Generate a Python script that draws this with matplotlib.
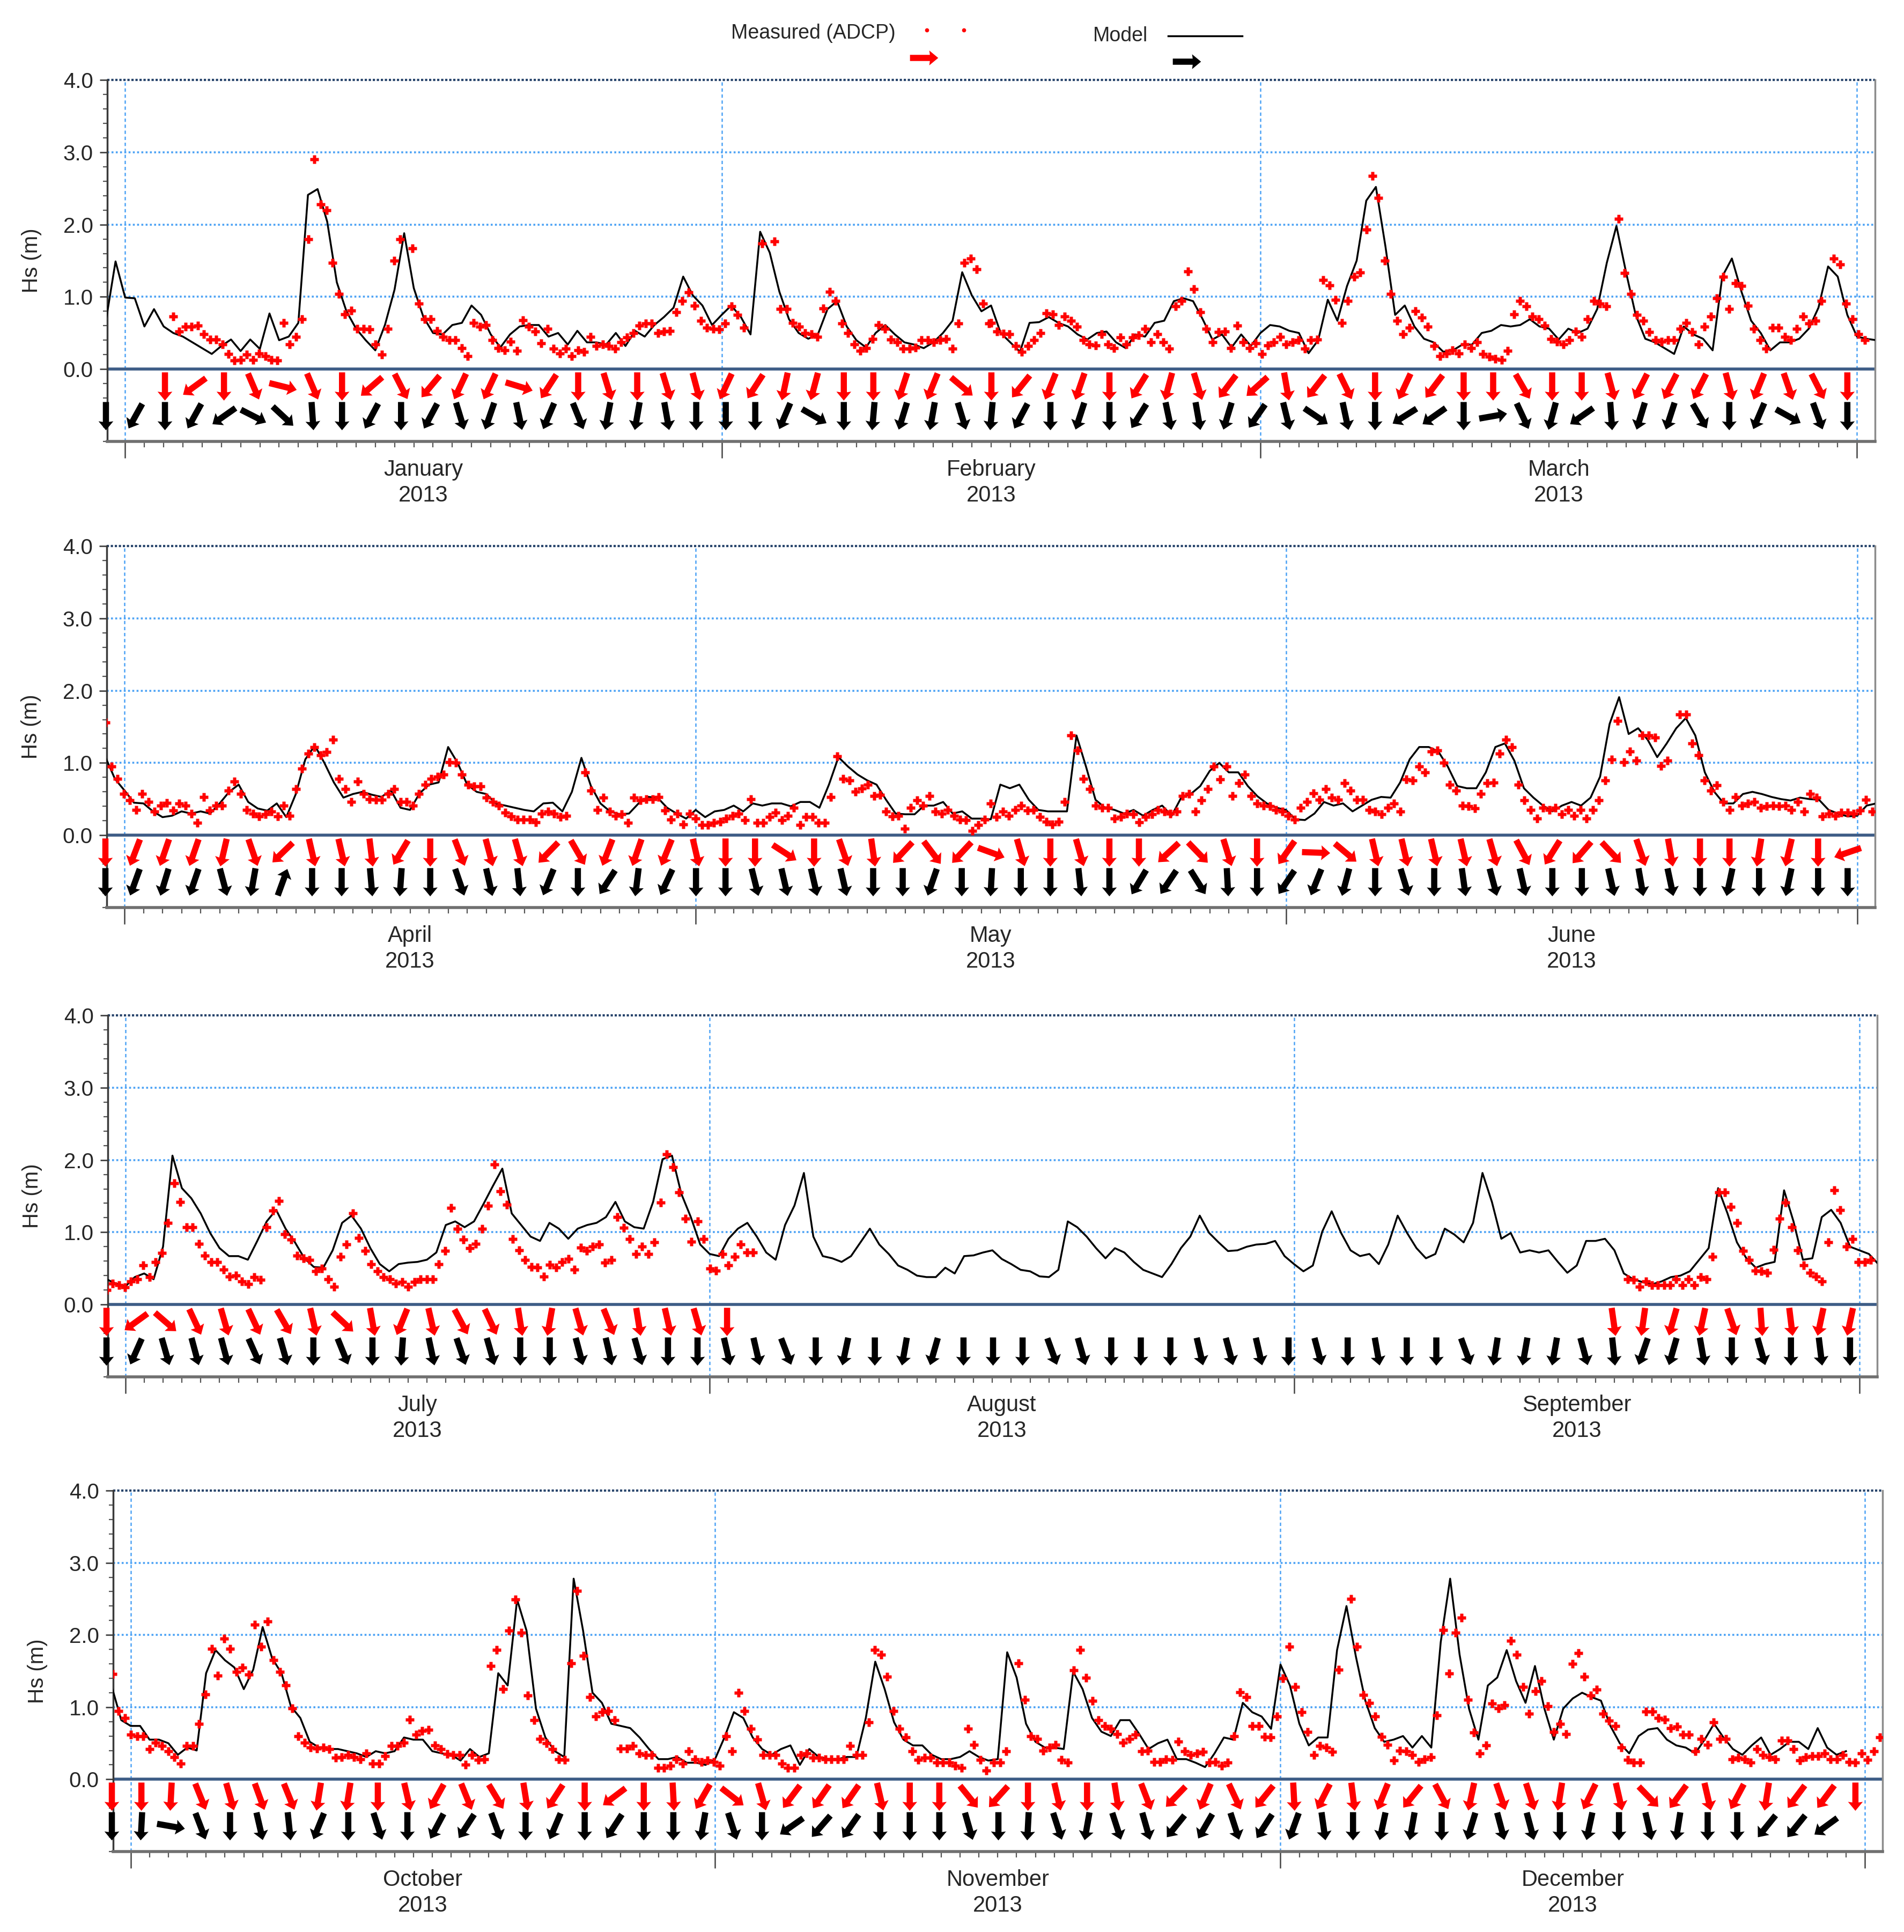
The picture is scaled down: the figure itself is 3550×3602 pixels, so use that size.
import numpy as np
import matplotlib
matplotlib.use("Agg")
import matplotlib.pyplot as plt
from matplotlib.ticker import FixedLocator, MultipleLocator

plt.rcParams['font.family'] = ['Liberation Sans', 'DejaVu Sans']

# ---------------------------------------------------------------- data
# model Hs, every 12 h, first value at day -1 of each quarter
model_q1 = [0.67, 1.49, 0.99, 0.98, 0.59, 0.83, 0.59, 0.50, 0.45, 0.37,
            0.29, 0.21, 0.32, 0.41, 0.25, 0.41, 0.28, 0.77, 0.40, 0.45,
            0.64, 2.41, 2.49, 2.04, 1.20, 0.80, 0.56, 0.40, 0.26, 0.61,
            1.10, 1.88, 1.12, 0.72, 0.50, 0.48, 0.61, 0.64, 0.88, 0.75,
            0.48, 0.30, 0.48, 0.59, 0.61, 0.61, 0.45, 0.50, 0.34, 0.53,
            0.37, 0.37, 0.34, 0.50, 0.32, 0.53, 0.45, 0.61, 0.72, 0.85,
            1.28, 1.02, 0.88, 0.61, 0.75, 0.88, 0.72, 0.48, 1.90, 1.61,
            1.07, 0.69, 0.50, 0.42, 0.48, 0.83, 0.94, 0.59, 0.40, 0.30,
            0.50, 0.61, 0.48, 0.37, 0.34, 0.29, 0.37, 0.50, 0.67, 1.34,
            1.02, 0.80, 0.88, 0.50, 0.37, 0.24, 0.64, 0.65, 0.72, 0.64,
            0.59, 0.48, 0.41, 0.50, 0.52, 0.37, 0.29, 0.48, 0.45, 0.64,
            0.67, 0.94, 0.98, 0.94, 0.69, 0.41, 0.48, 0.30, 0.48, 0.32,
            0.50, 0.61, 0.59, 0.53, 0.50, 0.22, 0.40, 0.96, 0.67, 1.15,
            1.50, 2.33, 2.52, 1.69, 0.75, 0.88, 0.59, 0.42, 0.37, 0.24,
            0.26, 0.34, 0.34, 0.50, 0.53, 0.61, 0.59, 0.61, 0.69, 0.59,
            0.56, 0.41, 0.56, 0.50, 0.56, 0.83, 1.47, 1.98, 1.34, 0.75,
            0.42, 0.37, 0.29, 0.21, 0.59, 0.48, 0.42, 0.26, 1.28, 1.53,
            1.07, 0.67, 0.50, 0.26, 0.37, 0.37, 0.42, 0.56, 0.85, 1.42,
            1.28, 0.75, 0.45, 0.42, 0.40]
model_q2 = [1.08, 0.78, 0.62, 0.45, 0.44, 0.33, 0.25, 0.27, 0.33, 0.30,
            0.33, 0.30, 0.44, 0.60, 0.70, 0.46, 0.37, 0.34, 0.44, 0.25,
            0.57, 1.05, 1.24, 1.00, 0.73, 0.52, 0.57, 0.60, 0.56, 0.53,
            0.62, 0.38, 0.35, 0.58, 0.70, 0.73, 1.22, 1.00, 0.70, 0.60,
            0.57, 0.44, 0.41, 0.38, 0.35, 0.33, 0.44, 0.45, 0.33, 0.60,
            1.07, 0.68, 0.44, 0.33, 0.29, 0.30, 0.44, 0.53, 0.52, 0.38,
            0.30, 0.23, 0.35, 0.25, 0.33, 0.35, 0.41, 0.33, 0.44, 0.41,
            0.44, 0.44, 0.40, 0.46, 0.46, 0.38, 0.70, 1.08, 0.95, 0.84,
            0.76, 0.70, 0.49, 0.30, 0.29, 0.29, 0.41, 0.41, 0.46, 0.30,
            0.33, 0.23, 0.23, 0.22, 0.70, 0.65, 0.70, 0.49, 0.35, 0.33,
            0.33, 0.33, 1.38, 0.95, 0.49, 0.38, 0.35, 0.30, 0.35, 0.27,
            0.35, 0.41, 0.27, 0.52, 0.57, 0.68, 0.89, 1.00, 0.87, 0.87,
            0.68, 0.54, 0.44, 0.38, 0.35, 0.22, 0.21, 0.30, 0.46, 0.41,
            0.44, 0.33, 0.41, 0.49, 0.53, 0.52, 0.73, 1.05, 1.22, 1.22,
            1.16, 0.95, 0.68, 0.65, 0.65, 0.87, 1.22, 1.27, 1.03, 0.65,
            0.52, 0.41, 0.33, 0.41, 0.46, 0.41, 0.52, 0.81, 1.54, 1.91,
            1.40, 1.48, 1.32, 1.08, 1.27, 1.48, 1.62, 1.38, 0.87, 0.60,
            0.44, 0.44, 0.57, 0.60, 0.57, 0.53, 0.50, 0.48, 0.52, 0.50,
            0.49, 0.35, 0.30, 0.26, 0.27, 0.41, 0.44]
model_q3 = [0.35, 0.29, 0.25, 0.38, 0.43, 0.35, 0.80, 2.06, 1.61, 1.47,
            1.26, 0.99, 0.78, 0.67, 0.67, 0.62, 0.88, 1.15, 1.31, 1.05,
            0.86, 0.64, 0.52, 0.51, 0.75, 1.13, 1.23, 1.05, 0.78, 0.56,
            0.46, 0.56, 0.58, 0.59, 0.62, 0.72, 1.10, 1.15, 1.07, 1.15,
            1.39, 1.64, 1.88, 1.26, 1.10, 0.94, 0.88, 1.13, 1.05, 0.91,
            1.05, 1.10, 1.13, 1.21, 1.42, 1.15, 1.07, 1.05, 1.42, 2.01,
            2.06, 1.53, 1.21, 0.83, 0.70, 0.67, 0.91, 1.05, 1.13, 0.94,
            0.72, 0.62, 1.10, 1.37, 1.82, 0.94, 0.67, 0.64, 0.59, 0.67,
            0.86, 1.05, 0.83, 0.70, 0.54, 0.48, 0.40, 0.38, 0.38, 0.51,
            0.43, 0.67, 0.68, 0.72, 0.75, 0.63, 0.56, 0.48, 0.46, 0.39,
            0.38, 0.48, 1.15, 1.07, 0.94, 0.78, 0.64, 0.78, 0.72, 0.59,
            0.48, 0.43, 0.38, 0.56, 0.78, 0.94, 1.23, 0.99, 0.86, 0.74,
            0.75, 0.80, 0.83, 0.84, 0.88, 0.67, 0.56, 0.46, 0.54, 1.01,
            1.29, 0.99, 0.75, 0.67, 0.70, 0.56, 0.83, 1.23, 0.99, 0.78,
            0.64, 0.70, 1.05, 0.97, 0.86, 1.13, 1.82, 1.42, 0.91, 0.99,
            0.72, 0.75, 0.72, 0.75, 0.59, 0.44, 0.54, 0.88, 0.88, 0.91,
            0.75, 0.43, 0.35, 0.31, 0.28, 0.32, 0.38, 0.40, 0.46, 0.62,
            0.78, 1.61, 1.26, 0.86, 0.64, 0.51, 0.56, 0.59, 1.58, 1.15,
            0.62, 0.64, 1.21, 1.31, 1.13, 0.80, 0.75, 0.70, 0.56]
model_q4 = [1.28, 0.82, 0.74, 0.74, 0.55, 0.55, 0.50, 0.34, 0.44, 0.40,
            1.47, 1.79, 1.65, 1.55, 1.25, 1.52, 2.11, 1.68, 1.47, 1.01,
            0.85, 0.52, 0.44, 0.42, 0.42, 0.39, 0.36, 0.31, 0.39, 0.36,
            0.39, 0.58, 0.55, 0.55, 0.39, 0.36, 0.34, 0.26, 0.42, 0.31,
            0.36, 1.47, 1.30, 2.49, 2.06, 0.98, 0.58, 0.39, 0.31, 2.78,
            2.06, 1.20, 1.06, 0.77, 0.74, 0.71, 0.58, 0.42, 0.28, 0.28,
            0.31, 0.23, 0.23, 0.20, 0.28, 0.58, 0.93, 0.85, 0.58, 0.42,
            0.34, 0.42, 0.47, 0.20, 0.42, 0.31, 0.28, 0.28, 0.31, 0.31,
            0.85, 1.63, 1.25, 0.79, 0.55, 0.47, 0.47, 0.34, 0.28, 0.28,
            0.31, 0.39, 0.31, 0.26, 0.28, 1.76, 1.41, 0.77, 0.52, 0.44,
            0.44, 0.42, 1.49, 1.25, 0.85, 0.66, 0.60, 0.82, 0.82, 0.63,
            0.42, 0.50, 0.55, 0.28, 0.28, 0.23, 0.17, 0.36, 0.58, 0.55,
            1.06, 0.93, 0.87, 0.70, 1.59, 1.30, 0.77, 0.47, 0.58, 0.58,
            1.79, 2.40, 1.70, 1.09, 0.71, 0.52, 0.55, 0.60, 0.44, 0.60,
            0.44, 1.90, 2.78, 1.73, 0.98, 0.55, 1.30, 1.41, 1.79, 1.36,
            1.06, 1.57, 0.98, 0.55, 0.98, 1.12, 1.20, 1.14, 1.09, 0.74,
            0.50, 0.36, 0.60, 0.69, 0.71, 0.55, 0.47, 0.44, 0.36, 0.55,
            0.77, 0.58, 0.42, 0.34, 0.47, 0.58, 0.34, 0.42, 0.52, 0.52,
            0.42, 0.71, 0.44, 0.34, 0.39]

# measured Hs (ADCP), roughly every 8 h; None = no record
meas_q1a = [0.73, 0.52, 0.59, 0.59, 0.6, 0.48, 0.41, 0.41, 0.34, 0.21, 0.12, 0.13, 0.2, 0.13,
            0.22, 0.18, 0.13, 0.12, 0.64, 0.34, 0.45, 0.69, 1.8, 2.9, 2.28, 2.2, 1.47, 1.04,
            0.76, 0.81, 0.56, 0.56, 0.55, 0.34, 0.2, 0.56, 1.5, 1.8, None, 1.67, 0.91, 0.69,
            0.69, 0.53, 0.45, 0.4, 0.4, 0.29, 0.18, 0.64, 0.59, 0.61, 0.4, 0.29, 0.26, 0.38,
            0.25, 0.68, 0.59, 0.52, 0.36, 0.56, 0.28, 0.22, 0.28, 0.18, 0.26, 0.24, 0.45, 0.32,
            0.34, 0.32, 0.28, 0.37, 0.44, 0.5, 0.6, 0.63, 0.63, 0.5, 0.52, 0.53, 0.79, 0.94,
            1.06, 0.88, 0.67, 0.57, 0.56, 0.55, 0.63, 0.87, 0.75, 0.57, None, None, 1.74, None,
            1.77, 0.83, 0.83, 0.64, 0.59, 0.5, 0.48, 0.45, 0.84, 1.07, 0.94, 0.63, 0.5, 0.34,
            0.25, 0.29, 0.42, 0.61, 0.56, 0.41, 0.37, 0.28, 0.28, 0.3, 0.4, 0.4, 0.37, 0.4,
            0.42, 0.28, 0.63, 1.47, 1.53, 1.38, 0.91, 0.63]
meas_q1b = [0.64, 0.52, 0.49, 0.48, 0.32, 0.24, 0.32, 0.4, 0.5, 0.77, 0.76, 0.61, 0.73, 0.67,
            0.59, 0.4, 0.34, 0.33, 0.48, 0.34, 0.29, 0.44, 0.34, 0.44, 0.47, 0.56, 0.37, 0.48,
            0.37, 0.28, 0.87, 0.94, 1.35, 1.11, 0.79, 0.56, 0.37, 0.51, 0.52, 0.29, 0.6, 0.37,
            0.29, 0.36, 0.21, 0.33, 0.37, 0.45, 0.34, 0.37, 0.4, 0.28, 0.4, 0.41, 1.23, 1.16,
            0.96, 0.64, 0.94, 1.28, 1.34, 1.93, 2.67, 2.37, 1.5, 1.04, 0.67, 0.48, 0.57, 0.8,
            0.71, 0.59, 0.32, 0.18, 0.22, 0.26, 0.22, 0.34, 0.29, 0.37, 0.21, 0.17, 0.14, 0.13,
            0.25, 0.76, 0.94, 0.87, 0.73, 0.69, 0.6, 0.42, 0.38, 0.34, 0.4, 0.52, 0.45, 0.69,
            0.94, 0.91, 0.87, None, 2.08, 1.33, 1.04, 0.75, 0.67, 0.51, 0.4, 0.38, 0.4, 0.4,
            0.56, 0.64, 0.51, 0.34, 0.59, 0.73, 0.98, 1.28, 0.83, 1.19, 1.15, 0.88, 0.56, 0.4,
            0.28, 0.57, 0.57, 0.45, 0.4, 0.56, 0.73, 0.63, 0.67, 0.94, None, 1.53, 1.45, 0.91,
            0.69, 0.48, 0.4]
meas_q2a = [1.56, 0.95, 0.78, 0.57, 0.48, 0.35, 0.57, 0.46, 0.33, 0.41, 0.45, 0.34, 0.44, 0.41,
            0.3, 0.17, 0.53, 0.34, 0.41, 0.41, 0.62, 0.74, 0.57, 0.35, 0.3, 0.26, 0.29, 0.33,
            0.26, 0.41, 0.27, 0.64, 0.92, 1.13, 1.22, 1.11, 1.15, 1.32, 0.78, 0.64, 0.46, 0.74,
            0.57, 0.5, 0.49, 0.49, 0.57, 0.64, 0.46, 0.46, 0.41, 0.57, 0.7, 0.78, 0.81, 0.84,
            1.01, 1.0, 0.84, 0.7, 0.68, 0.68, 0.52, 0.46, 0.41, 0.31, 0.26, 0.22, 0.22, 0.22,
            0.18, 0.3, 0.33, 0.3, 0.25, 0.27, None, None, 0.87, 0.62, 0.35, 0.52, 0.33, 0.27,
            0.29, 0.17, 0.52, 0.48, 0.5, 0.5, 0.53, 0.34, 0.22, 0.3, 0.15, 0.3, 0.23, 0.14,
            0.14, 0.17, 0.19, 0.23, 0.27, 0.3, 0.21, 0.5, 0.17, 0.17, 0.25, 0.31, 0.21, 0.27,
            0.38, 0.14, 0.25, 0.25, 0.17, 0.17, 0.53, 1.09, 0.78, 0.76, 0.6, 0.65, 0.7, 0.54,
            0.56, 0.33, 0.26, 0.27, 0.09, 0.38, 0.48, 0.41, 0.54, 0.33, 0.3, 0.35, 0.27, 0.22,
            0.21, 0.06, 0.14, 0.22, 0.44]
meas_q2b = [0.25, 0.33, 0.27, 0.35, 0.41, 0.34, 0.35, 0.25, 0.19, 0.15, 0.19, 0.46, 1.38, 1.17,
            0.78, 0.64, 0.41, 0.38, 0.38, 0.23, 0.25, 0.3, 0.29, 0.18, 0.25, 0.29, 0.35, 0.33,
            0.3, 0.33, 0.54, 0.57, 0.33, 0.48, 0.64, 0.95, 0.77, 0.95, 0.54, 0.72, 0.84, 0.54,
            0.44, 0.41, 0.4, 0.35, 0.33, 0.27, 0.22, 0.38, 0.46, 0.58, 0.49, 0.64, 0.52, 0.49,
            0.72, 0.62, 0.49, 0.49, 0.35, 0.33, 0.29, 0.38, 0.44, 0.33, 0.77, 0.76, 0.95, 0.87,
            1.16, 1.17, 1.0, 0.7, 0.62, 0.41, 0.4, 0.37, 0.57, 0.72, 0.73, 1.13, 1.32, 1.22,
            0.7, 0.48, 0.35, 0.23, 0.38, 0.35, 0.38, 0.29, 0.35, 0.27, 0.35, 0.23, 0.35, 0.48,
            0.76, 1.05, 1.58, 1.01, 1.16, 1.03, 1.38, 1.38, 1.35, 0.96, 1.03, None, 1.67, 1.67,
            1.27, 1.11, 0.76, 0.62, 0.69, 0.46, 0.35, 0.53, 0.41, 0.44, 0.46, 0.38, 0.4, 0.41,
            0.4, 0.41, 0.35, 0.46, 0.33, 0.57, 0.52, 0.26, 0.3, 0.27, 0.31, 0.31, 0.3, 0.34,
            0.49, 0.33]
meas_q3a = [0.2, 0.29, 0.27, 0.24, 0.32, 0.35, 0.54, 0.38, 0.59, 0.71, 1.13, 1.68, 1.42, 1.07,
            1.07, 0.84, 0.68, 0.59, 0.59, 0.48, 0.39, 0.4, 0.32, 0.28, 0.38, 0.34, 1.07, 1.3,
            1.43, 0.97, 0.9, 0.68, 0.64, 0.62, 0.46, 0.5, 0.35, 0.25, 0.66, 0.83, 1.26, 0.92,
            0.74, 0.56, 0.46, 0.38, 0.35, 0.29, 0.31, 0.25, 0.31, 0.35, 0.35, 0.35, 0.56, 0.74,
            1.34, 1.05, 0.9, 0.78, 0.84, 1.05, 1.37, 1.94, 1.57, 1.38, 0.91, 0.75, 0.62, 0.52,
            0.51, 0.39, 0.55, 0.51, 0.59, 0.63, 0.48, 0.79, 0.74, 0.8, 0.83, 0.58, 0.62, 1.21,
            1.06, 0.91, 0.7, 0.8, 0.7, 0.86, 1.41, 2.08, 1.9, 1.55, 1.19, 0.87, 1.15, 0.91,
            0.5, 0.47, 0.7, 0.54, 0.66, 0.83, 0.72, 0.72]
meas_q3b = [0.35, 0.34, 0.25, 0.32, 0.27, 0.27, 0.27, 0.27, 0.35, 0.27, 0.35, 0.27, 0.38, 0.35,
            0.66, 1.55, 1.55, 1.35, 1.13, 0.74, 0.62, 0.47, 0.46, 0.44, 0.76, 1.19, 1.41, 1.07,
            0.75, 0.54, 0.44, 0.39, 0.32, 0.86, 1.58, 1.31, 0.8, 0.91, 0.59, 0.59, 0.62]
meas_q4a = [1.46, 0.95, 0.85, 0.62, 0.6, 0.6, 0.42, 0.51, 0.46, 0.39, 0.31, 0.22, 0.46, 0.46,
            0.77, 1.18, 1.81, 1.44, 1.95, 1.81, 1.49, 1.55, 1.45, 2.14, 1.84, 2.19, 1.65, 1.49,
            1.3, 0.98, 0.6, 0.51, 0.44, 0.43, 0.44, 0.42, 0.3, 0.31, 0.34, 0.31, 0.28, 0.36,
            0.22, 0.22, 0.32, 0.46, 0.46, 0.51, 0.83, 0.62, 0.67, 0.69, 0.47, 0.42, 0.35, 0.34,
            0.34, 0.2, 0.34, 0.27, 0.28, 1.57, 1.79, 1.25, 2.06, 2.49, 2.03, 1.16, 0.82, 0.56,
            0.5, 0.42, 0.28, 0.27, 1.61, 2.61, 1.71, 1.14, 0.87, 0.93, 0.95, 0.82, 0.43, 0.43,
            0.46, 0.36, 0.34, 0.34, 0.16, 0.16, 0.19, 0.28, 0.22, 0.39, 0.28, 0.24, 0.26, 0.24,
            0.19, 0.6, 0.39, 1.2, 0.95, 0.7, 0.55, 0.34, 0.34, 0.34, 0.22, 0.16, 0.16, 0.34,
            0.36, 0.3, 0.3, 0.28, 0.28, 0.28, 0.28, 0.46, 0.34, 0.34, 0.79, 1.79, 1.73, 1.42,
            0.95, 0.7, 0.58, 0.39, 0.27, 0.3, 0.3, 0.23, 0.23, 0.23, 0.19, 0.16, 0.7, 0.48,
            0.27, 0.12]
meas_q4b = [0.23, 0.23, 0.39, None, 1.61, 1.1, 0.6, 0.56, 0.4, 0.44, 0.48, 0.27, 0.23, 1.51,
            1.79, 1.41, 1.09, 0.82, 0.74, 0.7, 0.63, 0.51, 0.56, 0.62, 0.39, 0.4, 0.24, 0.24,
            0.28, 0.27, 0.52, 0.39, 0.34, 0.36, 0.38, 0.23, 0.24, 0.19, 0.23, 0.6, 1.21, 1.14,
            0.74, 0.74, 0.59, 0.58, 0.87, 1.4, 1.84, 1.28, 0.93, 0.66, 0.34, 0.46, 0.44, 0.38,
            1.52, None, 2.5, 1.84, 1.17, 1.06, 0.87, 0.59, 0.48, 0.26, 0.4, 0.39, 0.34, 0.24,
            0.28, 0.31, 0.89, 2.07, 1.47, 2.03, 2.24, 1.1, 0.65, 0.36, 0.47, 1.05, 0.98, 1.03,
            1.92, 1.73, 1.28, 0.91, 1.22, 1.36, 1.01, 0.66, 0.77, 0.63, 1.6, 1.75, 1.42, 1.16,
            1.24, 0.91, 0.81, 0.74, 0.44, 0.27, 0.23, 0.23, 0.94, 0.94, 0.85, 0.83, 0.71, 0.73,
            0.62, 0.62, 0.39, 0.56, 0.48, 0.79, 0.56, 0.56, 0.28, 0.3, 0.28, 0.23, 0.42, 0.34,
            0.31, 0.28, 0.54, 0.54, 0.42, 0.26, 0.31, 0.32, 0.32, 0.36, 0.28, 0.28, 0.34, 0.24,
            0.23, 0.36, 0.27, 0.39, 0.58]

# wave direction (degrees the arrow points to, 0 = up, 90 = right), one arrow every ~1.5 days
model_dir_q1 = [180, 209, 180, 209, 235, 117, 133, 176, 180, 208, 180, 208, 163, 199, 168,
                203, 158, 191, 190, 170, 180, 180, 180, 203, 120, 180, 185, 197, 190, 163,
                185, 208, 180, 198, 180, 212, 168, 170, 197, 215, 166, 124, 168, 180, 238,
                235, 180, 80, 155, 195, 235, 176, 197, 198, 150, 180, 203, 119, 160, 180]
meas_dir_q1 = [None, None, 180, 234, 180, 157, 104, 157, 180, 229, 153, 220, 205, 205, 107,
               213, 180, 163, 180, 163, 165, 205, 213, 192, 195, 180, 180, 198, 202, 130,
               180, 219, 202, 199, 180, 212, 195, 163, 217, 228, 170, 218, 154, 180, 205,
               217, 180, 180, 150, 180, 180, 165, 207, 207, 207, 165, 202, 161, 153, 180]
model_dir_q2 = [180, 200, 197, 199, 165, 190, 20, 180, 180, 175, 184, 180, 161, 167, 174,
                202, 180, 213, 187, 205, 180, 180, 166, 167, 167, 167, 180, 180, 199, 180,
                183, 180, 180, 174, 180, 211, 214, 148, 177, 180, 214, 202, 195, 180, 163,
                180, 172, 165, 167, 180, 180, 167, 170, 168, 180, 192, 180, 192, 180, 180]
meas_dir_q2 = [180, 201, 199, 199, 193, 161, 226, 167, 167, 173, 211, 180, 159, 165, 164,
               224, 150, 201, 199, 202, 167, 180, 180, 123, 180, 161, 172, 223, 143, 223,
               110, 164, 180, 164, 180, 180, 227, 136, 163, 180, 215, 92, 130, 167, 167,
               167, 167, 164, 152, 212, 221, 137, 161, 170, 180, 180, 189, 193, 180, 251]
model_dir_q3 = [180, 204, 164, 165, 165, 156, 164, 180, 158, 180, 184, 168, 161, 164, 180,
                180, 165, 167, 164, 180, 180, 167, 167, 159, 180, 192, 180, 190, 196, 180,
                180, 180, 160, 164, 180, 180, 180, 167, 165, 167, 180, 165, 180, 170, 180,
                180, 160, 189, 190, 190, 165, 174, 199, 196, 170, 180, 164, 180, 173, 180]
meas_dir_q3 = [180, 234, 131, 155, 164, 155, 150, 167, 133, 170, 202, 167, 152, 155, 171,
               190, 164, 158, 171, 167, 164, 180, None, None, None, None, None, None, None, None,
               None, None, None, None, None, None, None, None, None, None, None, None, None, None,
               None, None, None, None, None, None, None, 172, 188, 196, 192, 161, 176, 173, 192, 192]
model_dir_q4 = [180, 183, 100, 159, 180, 167, 174, 202, 180, 162, 180, 208, 213, 160, 180,
                203, 180, 213, 180, 180, 190, 162, 180, 235, 221, 215, 180, 180, 180, 164,
                180, 183, 162, 190, 162, 164, 219, 210, 162, 213, 200, 172, 180, 192, 190,
                180, 197, 165, 165, 180, 192, 180, 167, 189, 180, 180, 219, 219, 234, None]
meas_dir_q4 = [180, 180, 183, 158, 164, 160, 158, 189, 189, 180, 167, 209, 158, 149, 171,
               213, 180, 233, 180, 177, 210, 128, 164, 217, 215, 215, 167, 180, 180, 141,
               222, 180, 167, 180, 171, 159, 224, 203, 155, 219, 177, 207, 173, 202, 219,
               152, 192, 161, 162, 189, 206, 167, 136, 216, 167, 208, 189, 217, 217, 180]

quarters = [
    dict(months=['January', 'February', 'March'], ndays=[31, 28, 31],
         model=model_q1, meas=[(2.5, 44.9, meas_q1a), (45.0, 90.4, meas_q1b)],
         mdir=model_dir_q1, odir=meas_dir_q1, px=(200, 3496, 149, 823)),
    dict(months=['April', 'May', 'June'], ndays=[30, 31, 30],
         model=model_q2, meas=[(-1.0, 45.5, meas_q2a), (45.8, 91.8, meas_q2b)],
         mdir=model_dir_q2, odir=meas_dir_q2, px=(199, 3496, 1018, 1692)),
    dict(months=['July', 'August', 'September'], ndays=[31, 31, 30],
         model=model_q3, meas=[(-1.0, 33.3, meas_q3a), (79.7, 92.6, meas_q3b)],
         mdir=model_dir_q3, odir=meas_dir_q3, px=(201, 3500, 1893, 2567)),
    dict(months=['October', 'November', 'December'], ndays=[31, 30, 31],
         model=model_q4, meas=[(-0.97, 45.4, meas_q4a), (45.8, 92.8, meas_q4b)],
         mdir=model_dir_q4, odir=meas_dir_q4, px=(211, 3510, 2779, 3452)),
]

# ---------------------------------------------------------------- figure
W, H, DPI = 3550, 3602, 100
fig = plt.figure(figsize=(W / DPI, H / DPI), dpi=DPI)

GRID = '#4da3f5'
TXT = '#262626'


def draw_arrows(ax, xs, dirs, y, color):
    d = np.array(dirs, dtype=float)
    ok = ~np.isnan(d)
    b = np.deg2rad(d[ok])
    ax.quiver(xs[ok], np.full(ok.sum(), y), np.sin(b), np.cos(b),
              angles='uv', pivot='middle', units='inches', scale_units='inches',
              scale=1.9, width=0.115, headwidth=2.4, headlength=1.45,
              headaxislength=1.35, color=color, zorder=6, clip_on=False)


for q in quarters:
    x0, x1, y0, y1 = q['px']
    ax = fig.add_axes([x0 / W, 1 - y1 / H, (x1 - x0) / W, (y1 - y0) / H])
    n = sum(q['ndays'])
    starts = np.concatenate([[0], np.cumsum(q['ndays'])])
    ax.set_xlim(-0.93, n + 0.94)
    ax.set_ylim(-1.0, 4.0)

    # grid
    for g in [1, 2, 3]:
        ax.axhline(g, color=GRID, lw=2.6, ls=(0, (1, 1.2)), zorder=1)
    ax.axhline(4.0, color='#27446b', lw=3, ls=(0, (1, 0.8)), zorder=1, clip_on=False)
    for s in starts:
        ax.axvline(s, color=GRID, lw=1.8, ls=(0, (2.5, 2)), zorder=1)
    ax.axhline(0.0, color='#3d5c86', lw=4, zorder=2)

    # model and measurements
    t = -1.0 + 0.5 * np.arange(len(q['model']))
    ax.plot(t, q['model'], color='black', lw=2.5, zorder=4)
    for a, b, vals in q['meas']:
        v = np.array(vals, dtype=float)
        ax.plot(np.linspace(a, b, len(v)), v, ls='none', marker='P', ms=12,
                color='#ff0000', mec='none', zorder=5)

    # direction arrows
    xs = np.linspace(-1.0, n - 0.5, 60)
    draw_arrows(ax, xs, q['odir'], -0.24, '#ff0000')
    draw_arrows(ax, xs, q['mdir'], -0.65, 'black')

    # axes cosmetics
    ax.spines['top'].set_visible(False)
    ax.spines['left'].set_color('#3a3a3a')
    ax.spines['left'].set_linewidth(2.5)
    ax.spines['bottom'].set_color('#707070')
    ax.spines['bottom'].set_linewidth(4)
    ax.spines['right'].set_color('#8c8c8c')
    ax.spines['right'].set_linewidth(2.5)

    ax.xaxis.set_major_locator(FixedLocator(starts))
    ax.xaxis.set_minor_locator(FixedLocator(np.arange(0, n + 1)))
    ax.tick_params(axis='x', which='major', direction='out', length=22, width=1.8,
                   color='#444444', labelbottom=False)
    ax.tick_params(axis='x', which='minor', direction='out', length=8, width=1.6,
                   color='#555555')
    ax.yaxis.set_major_locator(FixedLocator([0, 1, 2, 3, 4]))
    ax.yaxis.set_minor_locator(MultipleLocator(0.2))
    ax.yaxis.set_major_formatter(plt.FormatStrFormatter('%.1f'))
    ax.tick_params(axis='y', which='major', direction='out', length=10, width=2,
                   color='#444444', pad=9, labelsize=29, labelcolor=TXT)
    ax.tick_params(axis='y', which='minor', direction='out', length=6, width=1.6,
                   color='#555555')
    ax.set_ylabel('Hs (m)', fontsize=29, color=TXT)
    ax.yaxis.set_label_coords(-0.037, 0.5)

    for m, s, L in zip(q['months'], starts[:-1], q['ndays']):
        ax.annotate(m, xy=(s + L / 2, 0), xycoords=('data', 'axes fraction'),
                    xytext=(0, -38), textcoords='offset points',
                    ha='center', va='center', fontsize=30, color=TXT)
        ax.annotate('2013', xy=(s + L / 2, 0), xycoords=('data', 'axes fraction'),
                    xytext=(0, -73), textcoords='offset points',
                    ha='center', va='center', fontsize=30, color=TXT)

# ---------------------------------------------------------------- legend
lg = fig.add_axes([0, 0, 1, 1])
lg.set_xlim(0, W)
lg.set_ylim(H, 0)
lg.axis('off')
lg.text(1363, 62, 'Measured (ADCP)', fontsize=27, va='center', ha='left', color=TXT)
lg.plot([1728, 1797], [56, 56], ls='none', marker='o', ms=4.5, color='#ff0000')
lg.text(2038, 67, 'Model', fontsize=27, va='center', ha='left', color=TXT)
lg.plot([2178, 2316], [67, 67], color='black', lw=2.5)
lg.quiver([1723, 2213], [108, 115], [1, 1], [0, 0], angles='uv', pivot='middle',
          units='inches', scale_units='inches', scale=1.9, width=0.115, headwidth=2.4,
          headlength=1.45, headaxislength=1.35, color=['#ff0000', 'black'])

fig.savefig('out.png', dpi=DPI, facecolor='white')
